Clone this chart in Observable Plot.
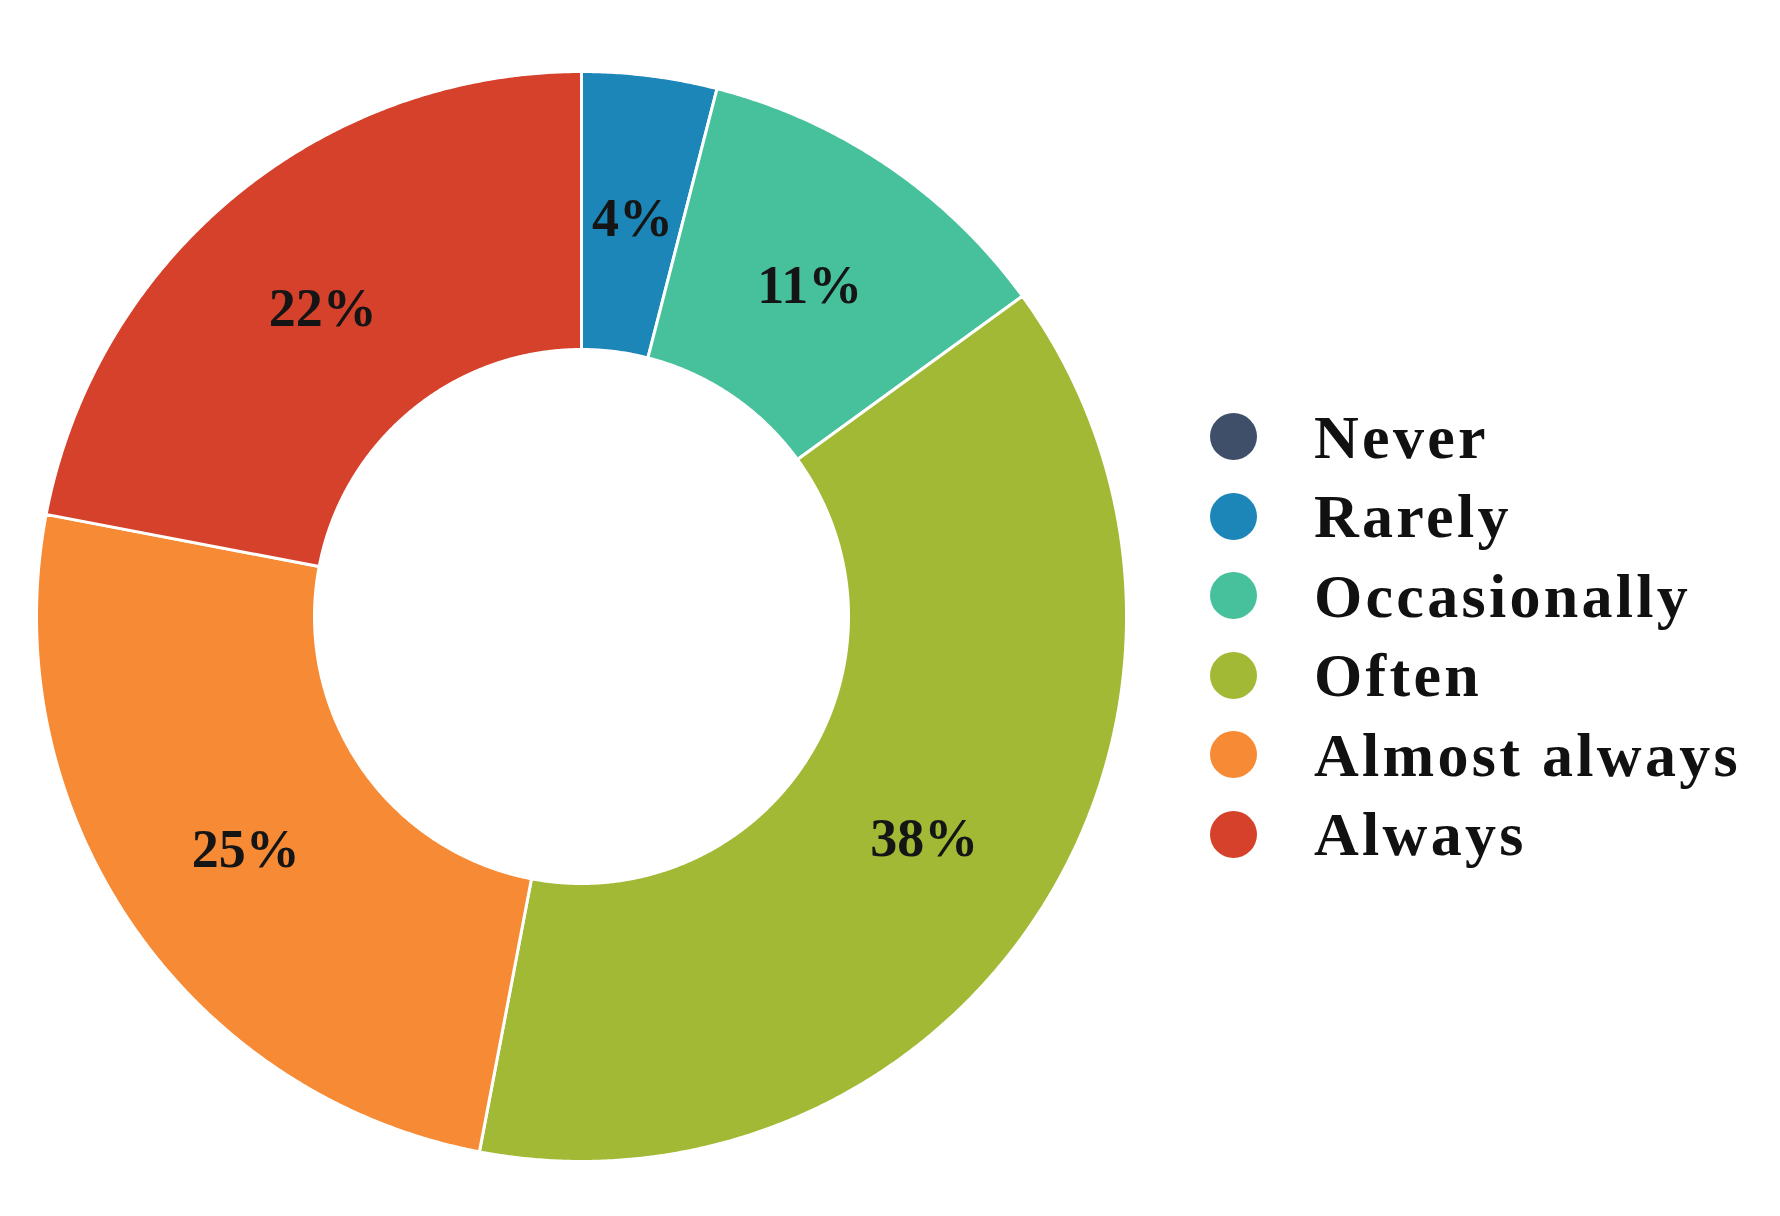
<!DOCTYPE html>
<html>
<head>
<meta charset="utf-8">
<script src="https://cdn.jsdelivr.net/npm/d3@7"></script>
<script src="https://cdn.jsdelivr.net/npm/@observablehq/plot@0.6"></script>
<style>
  html, body { margin: 0; padding: 0; background: #fff; }
  #wrap { position: relative; width: 1780px; height: 1216px; overflow: hidden; }
  #chart { position: absolute; left: 0; top: 0; }
  #legend { position: absolute; left: 1210px; top: 397px; font-family: "Liberation Serif", serif; font-weight: bold; font-size: 62px; color: #111; letter-spacing: 3.3px; }
  .row { display: flex; align-items: center; height: 79.5px; line-height: 1; }
  .sw { width: 47px; height: 47px; border-radius: 50%; margin-right: 57px; flex: none; }
</style>
</head>
<body>
<div id="wrap">
  <div id="chart"></div>
  <div id="legend"></div>
</div>
<script>
// ---- data ----
const categories = ["Never", "Rarely", "Occasionally", "Often", "Almost always", "Always"];
const values = [0, 4, 11, 38, 25, 22];
const colors = ["#3f4f6a", "#1b86b7", "#47c19c", "#a1b935", "#f78a35", "#d5412a"];

// ---- layout ----
const W = 1780, H = 1216;
const cx = 581, cy = 616;
const R = 545, r0 = 267;

const pie = d3.pie().sort(null).value(d => d.value);
const arcs = pie(categories.map((c, i) => ({cat: c, value: values[i]})));

// polygon outline of each slice, in chart units (1 unit = 1px, y up)
const pts = [];
for (const a of arcs) {
  if (a.data.value <= 0) continue;
  const n = Math.max(8, Math.ceil((a.endAngle - a.startAngle) * 180));
  for (let k = 0; k <= n; k++) {
    const t = a.startAngle + (a.endAngle - a.startAngle) * k / n;
    pts.push({cat: a.data.cat, x: R * Math.sin(t), y: R * Math.cos(t)});
  }
  for (let k = n; k >= 0; k--) {
    const t = a.startAngle + (a.endAngle - a.startAngle) * k / n;
    pts.push({cat: a.data.cat, x: r0 * Math.sin(t), y: r0 * Math.cos(t)});
  }
}
const labels = arcs.filter(a => a.data.value > 0).map(a => {
  const m = (a.startAngle + a.endAngle) / 2, rm = (R + r0) / 2;
  return {x: rm * Math.sin(m), y: rm * Math.cos(m), text: a.data.value + "%"};
});

const chart = Plot.plot({
  width: W, height: H,
  margin: 0,
  x: {domain: [-cx, W - cx], axis: null},
  y: {domain: [-(H - cy), cy], axis: null},
  color: {domain: categories, range: colors},
  marks: [
    Plot.line(pts, {x: "x", y: "y", z: "cat", fill: "cat", stroke: "white", strokeWidth: 3, curve: "linear-closed"}),
    Plot.text(labels, {x: "x", y: "y", dy: 5, text: "text", fontSize: 54, fontWeight: "bold", fontFamily: "Liberation Serif", fill: "#151515"})
  ]
});
document.getElementById("chart").appendChild(chart);

const legend = document.getElementById("legend");
categories.forEach((c, i) => {
  const row = document.createElement("div");
  row.className = "row";
  const sw = document.createElement("span");
  sw.className = "sw";
  sw.style.background = colors[i];
  const t = document.createElement("span");
  t.textContent = c;
  row.appendChild(sw); row.appendChild(t);
  legend.appendChild(row);
});
</script>
</body>
</html>
